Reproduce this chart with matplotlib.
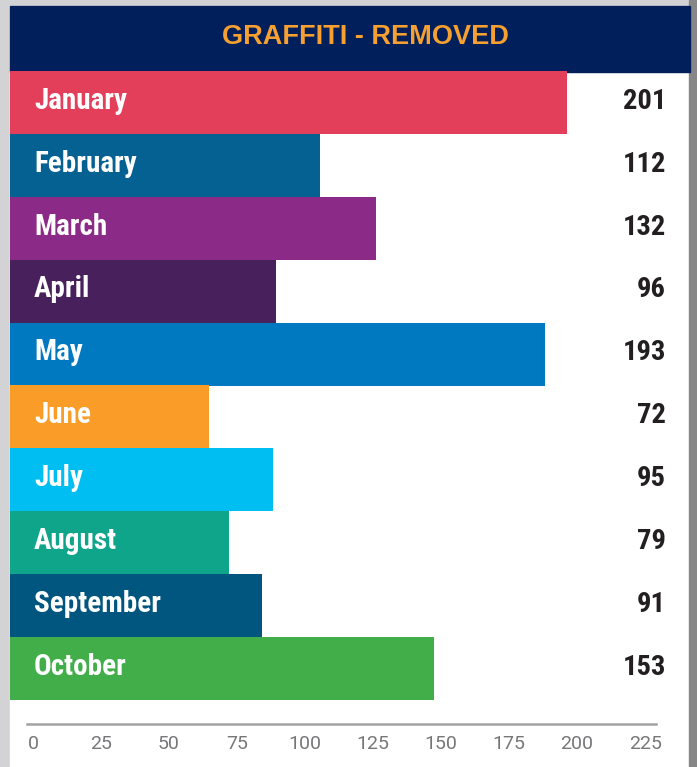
import matplotlib
matplotlib.use("Agg")
import matplotlib.pyplot as plt
from matplotlib.patches import Rectangle

months = ["January", "February", "March", "April", "May",
          "June", "July", "August", "September", "October"]
removed = [201, 112, 132, 96, 193, 72, 95, 79, 91, 153]
colors = ["#e43f5a", "#066193", "#8b2a87", "#47205c", "#0079c1",
          "#f99d28", "#00bdf2", "#0fa58b", "#00567f", "#41ae4a"]
ticks = [0, 25, 50, 75, 100, 125, 150, 175, 200, 225]

W, H = 697, 767
narrow = ["Roboto Condensed", "Archivo Narrow", "DejaVu Sans"]


def px(x0, y0, x1, y1):
    # pixel box (top-left origin) -> figure fraction rect
    return [x0 / W, 1 - y1 / H, (x1 - x0) / W, (y1 - y0) / H]


fig = plt.figure(figsize=(W / 100, H / 100), dpi=100, facecolor="#d3d3d5")

# white card and darker right edge
fig.patches.append(Rectangle((10 / W, 0), 679 / W, 1 - 6 / H,
                             transform=fig.transFigure, color="white", zorder=0))
fig.patches.append(Rectangle((689 / W, 0), 8 / W, 1,
                             transform=fig.transFigure, color="#878787", zorder=0))

# title band
fig.patches.append(Rectangle((10 / W, 1 - 72 / H), 680 / W, 66 / H,
                             transform=fig.transFigure, color="#001f5b", zorder=1))
fig.text(365 / W, 1 - 37 / H, "GRAFFITI - REMOVED", color="#f7a030",
         fontsize=19.5, fontweight="bold", ha="center", va="center",
         family=["Liberation Sans", "DejaVu Sans"], zorder=3)

# bars
ax = fig.add_axes(px(10, 71, 690, 700))
ax.set_zorder(5)
ax.set_axis_off()
y = list(range(len(months)))
ax.barh(y, removed, height=1.0, color=colors, align="center")
ax.set_xlim(0, 680 / 2.77)
ax.set_ylim(len(months) - 0.5, -0.5)
for i, (m, v) in enumerate(zip(months, removed)):
    ax.text(24 / 2.77, i + 0.1, m, color="white", fontsize=21,
            fontweight="bold", ha="left", va="baseline", family=narrow)
    ax.text(656 / 2.77, i + 0.1, str(v), color="#231f20", fontsize=20.5,
            fontweight="bold", ha="right", va="baseline", family=narrow)

# bottom scale
bx = fig.add_axes(px(27, 700, 656, 724))
bx.set_zorder(5)
bx.set_xlim(-2.2, 229)
bx.set_ylim(0, 1)
bx.patch.set_alpha(0)
for s in ["top", "left", "right"]:
    bx.spines[s].set_visible(False)
bx.spines["bottom"].set_color("#a3a3a3")
bx.spines["bottom"].set_linewidth(1.8)
bx.set_yticks([])
bx.set_xticks(ticks)
bx.tick_params(axis="x", length=0, pad=8, labelsize=14, labelcolor="#77777a")
for lab in bx.get_xticklabels():
    lab.set_family(["Roboto", "DejaVu Sans"])

fig.savefig("out.png", dpi=100, facecolor=fig.get_facecolor())
